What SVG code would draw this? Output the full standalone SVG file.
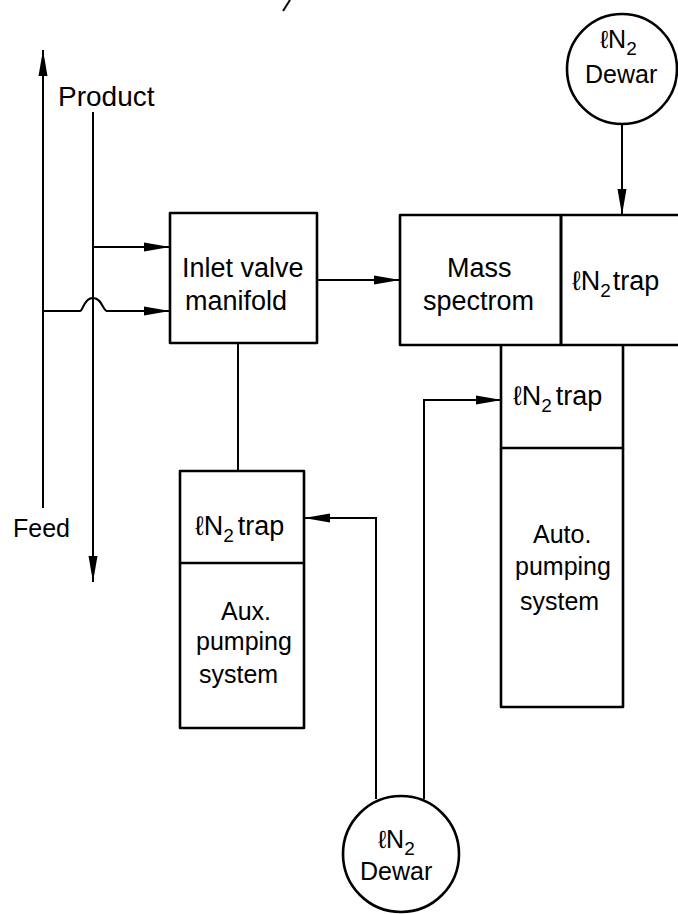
<svg xmlns="http://www.w3.org/2000/svg" width="678" height="914" viewBox="0 0 678 914">
<defs>
<style>
.box{fill:none;stroke:#000;stroke-width:2.6;stroke-linejoin:round}
.ln{fill:none;stroke:#000;stroke-width:2}
.t{font-family:"Liberation Sans","DejaVu Sans",sans-serif;font-size:27px;fill:#000}
.m{font-size:25px}
.s{font-size:19px}
</style>
<marker id="ah" markerUnits="userSpaceOnUse" markerWidth="28" markerHeight="12" refX="26" refY="5.5" orient="auto">
<path d="M0,1 L26,5.5 L0,10 Z" fill="#000"/>
</marker>
</defs>
<line class="ln" x1="290" y1="0" x2="283" y2="11"/>
<g id="connectors">
<line class="ln" x1="43" y1="508" x2="43" y2="50" marker-end="url(#ah)"/>
<line class="ln" x1="93" y1="112" x2="93" y2="582" marker-end="url(#ah)"/>
<line class="ln" x1="93" y1="247" x2="170" y2="247" marker-end="url(#ah)"/>
<path class="ln" d="M43 311 H80 C83 311 84 298 93 298 C102 298 103 311 107 311 H170" marker-end="url(#ah)"/>
<line class="ln" x1="317" y1="280" x2="400" y2="280" marker-end="url(#ah)"/>
<line class="ln" x1="238" y1="343" x2="238" y2="471"/>
<line class="ln" x1="622" y1="124" x2="622" y2="215" marker-end="url(#ah)"/>
<path class="ln" d="M424 799 V400 H502" marker-end="url(#ah)"/>
<path class="ln" d="M376 799 V518 H304" marker-end="url(#ah)"/>
</g>
<g id="product-label"><text class="t" x="58" y="106" style="font-size:28px">Product</text></g>
<g id="feed-label"><text class="t m" x="13" y="537">Feed</text></g>
<g id="inlet-valve-manifold">
<rect class="box" x="170" y="213" width="147" height="130"/>
<text class="t" x="182" y="277">Inlet valve</text>
<text class="t" x="185" y="310">manifold</text>
</g>
<g id="mass-spectrom">
<rect class="box" x="400" y="215" width="161" height="130"/>
<text class="t" x="447" y="277">Mass</text>
<text class="t" x="423" y="310">spectrom</text>
</g>
<g id="ms-trap">
<path class="box" d="M561 215 H681 M561 345 H681 M561 215 V345"/>
<text class="t" x="572" y="290">ℓN<tspan class="s" dy="7">2</tspan><tspan dy="-7" dx="2">trap</tspan></text>
</g>
<g id="auto-trap">
<path class="box" d="M501 345 V448 H623 V345"/>
<text class="t" x="513" y="405">ℓN<tspan class="s" dy="7">2</tspan><tspan dy="-7" dx="4">trap</tspan></text>
</g>
<g id="auto-pumping">
<path class="box" d="M501 448 V707 H623 V448"/>
<text class="t m" x="533" y="543">Auto.</text>
<text class="t m" x="515" y="575">pumping</text>
<text class="t m" x="520" y="610">system</text>
</g>
<g id="aux-trap">
<rect class="box" x="180" y="471" width="124" height="92"/>
<text class="t" x="195" y="535">ℓN<tspan class="s" dy="7">2</tspan><tspan dy="-7" dx="4">trap</tspan></text>
</g>
<g id="aux-pumping">
<path class="box" d="M180 563 V728 H304 V563"/>
<text class="t m" x="221" y="620">Aux.</text>
<text class="t m" x="196" y="650">pumping</text>
<text class="t m" x="199" y="683">system</text>
</g>
<g id="dewar-top">
<circle class="box" cx="622" cy="69" r="55"/>
<text class="t m" x="600" y="48">ℓN<tspan class="s" dy="7">2</tspan></text>
<text class="t m" x="585" y="83">Dewar</text>
</g>
<g id="dewar-bottom">
<circle class="box" cx="401" cy="854" r="58"/>
<text class="t m" x="378" y="848">ℓN<tspan class="s" dy="7">2</tspan></text>
<text class="t m" x="360" y="880">Dewar</text>
</g>
</svg>
